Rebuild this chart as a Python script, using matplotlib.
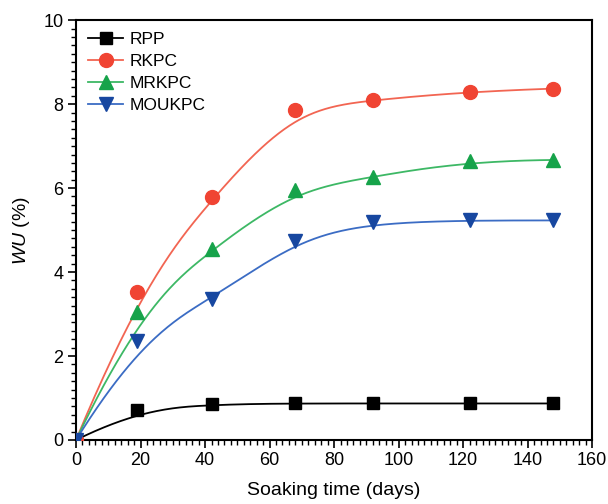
import numpy as np
import matplotlib
matplotlib.use('Agg')
import matplotlib.pyplot as plt

plt.rcParams['font.family'] = ['Liberation Sans', 'DejaVu Sans']
plt.rcParams['mathtext.fontset'] = 'custom'
plt.rcParams['mathtext.it'] = 'Liberation Sans:italic'
plt.rcParams['mathtext.rm'] = 'Liberation Sans'

# data
days = [0, 19, 42, 68, 92, 122, 148]
rpp = [0.0, 0.72, 0.85, 0.87, 0.87, 0.87, 0.87]
rkpc = [0.0, 3.52, 5.78, 7.87, 8.10, 8.30, 8.37]
mrkpc = [0.0, 3.05, 4.55, 5.95, 6.27, 6.65, 6.67]
moukpc = [0.0, 2.35, 3.35, 4.75, 5.20, 5.23, 5.23]

series = [
    ("RPP", rpp, 's', '#000000', '#000000'),
    ("RKPC", rkpc, 'o', '#F04433', '#F26552'),
    ("MRKPC", mrkpc, '^', '#16A34A', '#3DB865'),
    ("MOUKPC", moukpc, 'v', '#1747A0', '#3B6CC4'),
]


def bspline(px, py, n=300, k=3):
    """clamped B-spline with data points as control points (Origin style)"""
    px = np.asarray(px, float)
    py = np.asarray(py, float)
    m = len(px)
    inner = np.arange(1, m - k)
    knots = np.concatenate([np.zeros(k + 1), inner, np.full(k + 1, m - k)]).astype(float)
    t = np.linspace(0, m - k, n)
    t[-1] -= 1e-9

    def basis(i, d, tt):
        if d == 0:
            return ((knots[i] <= tt) & (tt < knots[i + 1])).astype(float)
        out = np.zeros_like(tt)
        den1 = knots[i + d] - knots[i]
        den2 = knots[i + d + 1] - knots[i + 1]
        if den1 > 0:
            out += (tt - knots[i]) / den1 * basis(i, d - 1, tt)
        if den2 > 0:
            out += (knots[i + d + 1] - tt) / den2 * basis(i + 1, d - 1, tt)
        return out

    B = np.array([basis(i, k, t) for i in range(m)])
    return B.T @ px, B.T @ py


fig = plt.figure(figsize=(6.08, 5.04), dpi=100)
ax = fig.add_axes([0.125, 0.127, 0.849, 0.833])

for name, vals, mk, mcol, lcol in series:
    cx, cy = bspline(days, vals)
    ax.plot(cx, cy, color=lcol, lw=1.3, zorder=2)
    ax.plot(days, vals, linestyle='none', marker=mk, color=mcol,
            markersize=10 if mk != 's' else 9, zorder=3)
    # legend proxy
    ax.plot([], [], color=lcol, lw=1.3, marker=mk, markerfacecolor=mcol,
            markeredgecolor=mcol, markersize=10 if mk != 's' else 8.5, label=name)

ax.set_xlim(0, 160)
ax.set_ylim(0, 10)
ax.set_xticks(np.arange(0, 161, 20))
ax.set_yticks(np.arange(0, 11, 2))
ax.set_xticks(np.arange(0, 161, 2), minor=True)
ax.set_yticks(np.arange(0, 10.01, 0.2), minor=True)
ax.tick_params(which='major', direction='out', length=6, width=1.2, labelsize=13, pad=3)
ax.tick_params(which='minor', direction='out', length=3.5, width=1.0)
for s in ax.spines.values():
    s.set_linewidth(1.5)

ax.set_xlabel("Soaking time (days)", fontsize=14, labelpad=9)
ax.set_ylabel(r"$\it{WU}$ (%)", fontsize=14, labelpad=8)

ax.legend(loc='upper left', frameon=False, fontsize=12.5, handlelength=2.0,
          handletextpad=0.4, labelspacing=0.38, borderaxespad=0.3,
          bbox_to_anchor=(0.0, 1.0))

fig.savefig("out.png", dpi=100)
